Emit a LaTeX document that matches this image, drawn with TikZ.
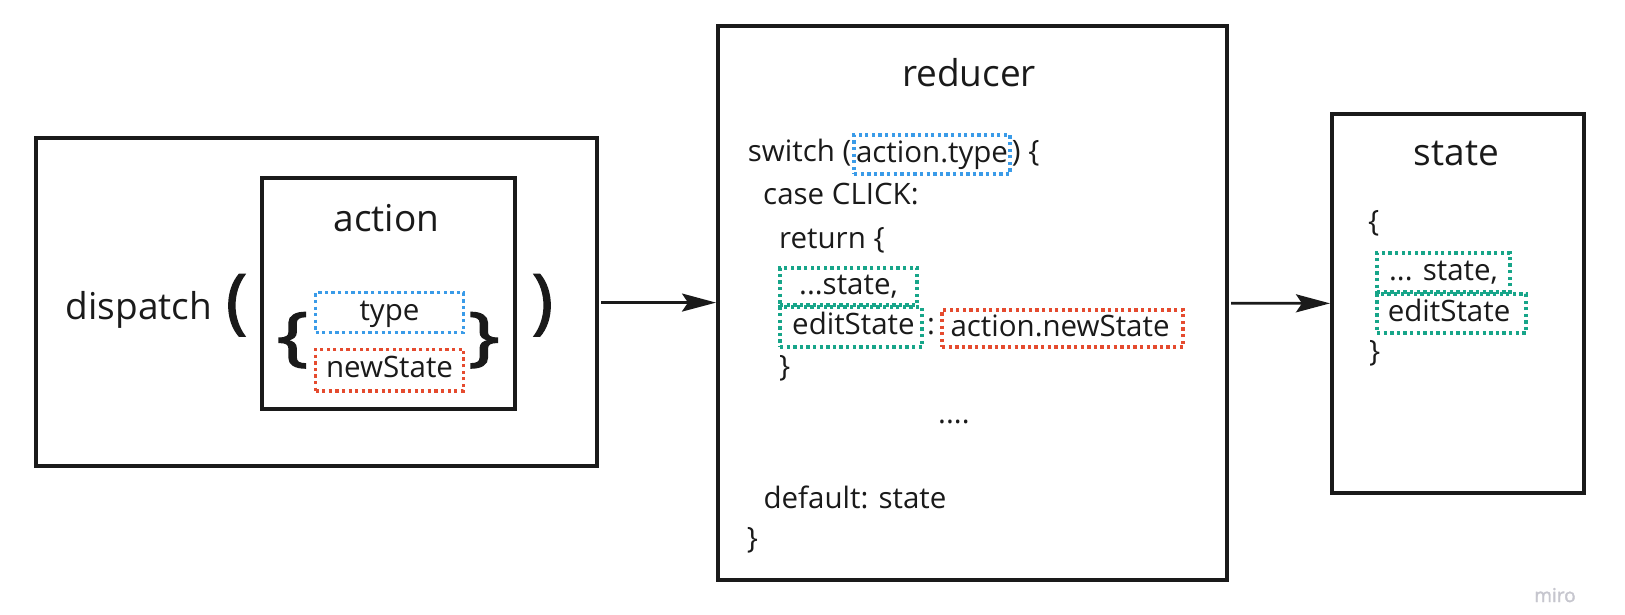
\documentclass[tikz,border=0pt]{standalone}
\usepackage{fontspec}
\setmainfont{Open Sans}
\newfontfamily\heavyfont[FakeBold=2]{Open Sans}
\usetikzlibrary{positioning, arrows.meta}

\definecolor{ink}{HTML}{1A1A1A}
\definecolor{dotblue}{HTML}{3A9BE8}
\definecolor{dotred}{HTML}{E54B2F}
\definecolor{dotgreen}{HTML}{17A589}
\definecolor{watermark}{HTML}{C6C6CE}
\newcommand\codefont{\fontsize{29.5}{43}\selectfont}

\begin{document}
\begin{tikzpicture}[x=1pt, y=-1pt,
    frame/.style={draw=ink, line width=4pt, inner sep=0pt},
    dotbox/.style={draw=#1, line width=3.3pt, dash pattern=on 3.3pt off 3.3pt, inner sep=0pt,
        text=ink, font=\codefont, text height=21pt, text depth=6pt},
    title/.style={text=ink, font=\fontsize{37}{44}\selectfont, anchor=base, inner sep=0pt},
    code/.style={text=ink, font=\codefont, anchor=base west, inner sep=0pt},
    big/.style={text=ink, font=\heavyfont\fontsize{#1}{#1}\selectfont, anchor=base, inner sep=0pt},
    flow/.style={draw=ink, line width=2.7pt, shorten <=2pt, -{Stealth[length=34pt, width=18pt, inset=6pt]}}]
\useasboundingbox (0,0) rectangle (1625,615);

% the three main blocks
\node[frame, minimum width=561pt, minimum height=328pt] (dispatchbox) at (316.5,302) {};
\node[frame, minimum width=253pt, minimum height=231pt] (actionbox) at (388.5,293.5) {};
\node[frame, minimum width=509pt, minimum height=554pt] (reducer) at (972.5,303) {};
\node[frame, minimum width=252pt, minimum height=379pt] (state) at (1458,303.5) {};

% dispatch( action )
\node[title] (dispatch) at (139,319) {dispatch};
\node[big=71] (lparen) at (236.5,325) {(};
\node[big=71] (rparen) at (542.5,325) {)};
\node[title] (actiontitle) at (386.5,231.7) {action};
\node[big=64, xscale=1.3] (lbrace) at (292.5,358) {\{};
\node[big=64, xscale=1.3] (rbrace) at (484,358) {\}};
\node[dotbox=dotblue, minimum width=148pt, minimum height=40pt] (type) at (389.5,312.7) {type};
\node[dotbox=dotred, minimum width=148pt, minimum height=41.7pt] (newstate) at (389.5,370) {newState};

% reducer
\node[title] (reducertitle) at (969,87) {reducer};
\node[code] (switch) at (747.7,161.7) {switch (};
\node[dotbox=dotblue, minimum width=156pt, minimum height=39pt] (actiontype) at (932,154.5) {action.type};
\node[code] (switchend) at (1011.7,161.7) {) \{};
\node[code] (case) at (763,204) {case CLICK:};
\node[code] (return) at (779,248) {return \{};
\node[dotbox=dotgreen, minimum width=137pt, minimum height=37pt] (spread) at (848.5,286.5) {...state,};
\node[dotbox=dotgreen, minimum width=142pt, minimum height=40pt] (edit) at (851,327) {\,editState};
\node[code, anchor=base] (colon) at (931,334) {:};
\node[dotbox=dotred, minimum width=241pt, minimum height=37pt] (newvalue) at (1062.5,328.5) {action.newState\,};
\node[code] (returnend) at (779,376) {\}};
\node[code] (more) at (938,423) {....};
\node[code] (default) at (763.3,508) {default: state};
\node[code] (switchclose) at (746.7,548) {\}};

% state
\node[title] (statetitle) at (1456.5,165) {state};
\node[code] (open) at (1368,231) {\{};
\node[dotbox=dotgreen, minimum width=133pt, minimum height=39pt] (statespread) at (1443.5,272.5) {... state,};
\node[dotbox=dotgreen, minimum width=149pt, minimum height=39pt] (stateedit) at (1451.5,313.5) {editState\,};
\node[code] (close) at (1369,361) {\}};

\draw[flow] (dispatchbox) -- (reducer);
\draw[flow] (reducer) -- (state);

\node[text=watermark, font=\heavyfont\fontsize{19}{19}\selectfont, anchor=base, inner sep=0pt] (miro) at (1555,602) {miro};
\end{tikzpicture}
\end{document}
